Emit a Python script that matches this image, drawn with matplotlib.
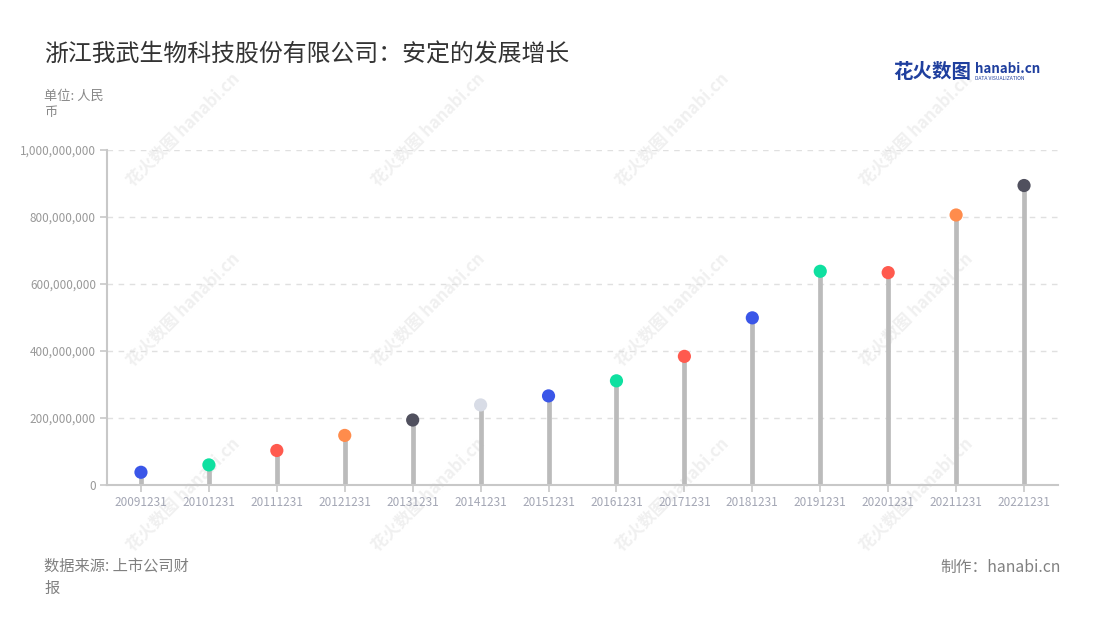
import matplotlib
matplotlib.use("Agg")
import matplotlib.pyplot as plt
from matplotlib.ticker import FuncFormatter

plt.rcParams["font.family"] = ["Noto Sans CJK SC", "DejaVu Sans"]

# 报告期与数值（人民币）
periods = ["20091231", "20101231", "20111231", "20121231", "20131231", "20141231", "20151231",
           "20161231", "20171231", "20181231", "20191231", "20201231", "20211231", "20221231"]
values = [38e6, 60e6, 103e6, 148e6, 194e6, 239e6, 266e6,
          311e6, 384e6, 499e6, 638e6, 634e6, 806e6, 894e6]
dot_colors = ["#3a56e8", "#0fe0a0", "#ff5a4e", "#ff8c4c", "#50505e", "#d8dce6", "#3a56e8",
              "#0fe0a0", "#ff5a4e", "#3a56e8", "#0fe0a0", "#ff5a4e", "#ff8c4c", "#50505e"]
y_ticks = [0, 2e8, 4e8, 6e8, 8e8, 1e9]

title = "浙江我武生物科技股份有限公司：安定的发展增长"
unit = "单位: 人民\n币"
source = "数据来源: 上市公司财\n报"
credit = "制作：hanabi.cn"

fig = plt.figure(figsize=(11, 6.2), dpi=100)
ax = fig.add_axes([107 / 1100, 135 / 620, 951 / 1100, 335 / 620])

# 水印
for cx in [183, 428, 672, 916]:
    for cy in [130, 310, 495]:
        fig.text(cx / 1100, 1 - cy / 620, "花火数图 hanabi.cn", rotation=45,
                 ha="center", va="center", fontsize=12, color="#f0f0f0",
                 fontweight="bold", zorder=-1)

x = range(len(periods))
ax.vlines(x, 0, values, color="#bbbbbb", linewidth=3.4, zorder=2)
ax.scatter(x, values, s=90, c=dot_colors, zorder=3, linewidths=0)

ax.set_xlim(-0.5, len(periods) - 0.5)
ax.set_ylim(0, 1e9)
ax.set_xticks(list(x))
ax.set_xticklabels(periods)
ax.set_yticks(y_ticks)
ax.yaxis.set_major_formatter(FuncFormatter(lambda v, p: f"{int(v):,}"))
ax.grid(axis="y", color="#e0e0e0", linestyle=(0, (4, 4)), linewidth=1)
ax.set_axisbelow(True)

for side in ["top", "right"]:
    ax.spines[side].set_visible(False)
for side in ["left", "bottom"]:
    ax.spines[side].set_color("#c8c8c8")
    ax.spines[side].set_linewidth(1.5)
ax.tick_params(axis="x", colors="#c8c8c8", labelcolor="#a3a6b4", labelsize=8.5, length=5, width=1.2, pad=3)
ax.tick_params(axis="y", colors="#c8c8c8", labelcolor="#999999", labelsize=8.5, length=5, width=1.2, pad=3)
ax.patch.set_alpha(0)

fig.text(44 / 1100, 1 - 55 / 620, title, fontsize=17.2, color="#333333", va="center", ha="left")
fig.text(44 / 1100, 1 - 90 / 620, unit, fontsize=9.5, color="#888888", va="top", ha="left", linespacing=1.3)
fig.text(44 / 1100, 1 - 558 / 620, source, fontsize=11, color="#808080", va="top", ha="left", linespacing=1.35)
fig.text(1061 / 1100, 1 - 567 / 620, credit, fontsize=11.3, color="#808080", va="center", ha="right")

# 标志
fig.text(893 / 1100, 1 - 72 / 620, "花火数图", fontsize=14, color="#1f3f9e", fontweight="bold",
         va="center", ha="left")
fig.text(975 / 1100, 1 - 69 / 620, "hanabi.cn", fontsize=9.6, color="#1f3f9e", fontweight="bold",
         va="center", ha="left")
fig.text(975 / 1100, 1 - 79 / 620, "DATA VISUALIZATION", fontsize=3.6, color="#1f3f9e",
         va="center", ha="left")

fig.savefig("out.png", dpi=100, facecolor="white")
